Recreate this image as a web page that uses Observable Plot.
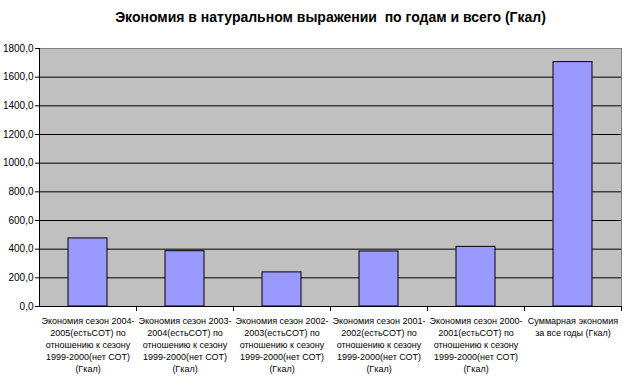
<!DOCTYPE html>
<html>
<head>
<meta charset="utf-8">
<script src="https://cdn.jsdelivr.net/npm/d3@7"></script>
<script src="https://cdn.jsdelivr.net/npm/@observablehq/plot@0.6"></script>
<style>
  html, body { margin: 0; padding: 0; background: white; }
</style>
</head>
<body>
<div id="chart"></div>
<script>
const title = "Экономия в натуральном выражении  по годам и всего (Гкал)";
const categories = [
  "Экономия сезон 2004-\n2005(естьСОТ) по\nотношению к сезону\n1999-2000(нет СОТ)\n(Гкал)",
  "Экономия сезон 2003-\n2004(естьСОТ) по\nотношению к сезону\n1999-2000(нет СОТ)\n(Гкал)",
  "Экономия сезон 2002-\n2003(естьСОТ) по\nотношению к сезону\n1999-2000(нет СОТ)\n(Гкал)",
  "Экономия сезон 2001-\n2002(естьСОТ) по\nотношению к сезону\n1999-2000(нет СОТ)\n(Гкал)",
  "Экономия сезон 2000-\n2001(естьСОТ) по\nотношению к сезону\n1999-2000(нет СОТ)\n(Гкал)",
  "Суммарная экономия\nза все годы (Гкал)"
];
const values = [475, 386, 238, 384, 416, 1705];
const yTicks = [0, 200, 400, 600, 800, 1000, 1200, 1400, 1600, 1800];

const data = categories.map((c, i) => ({cat: c, value: values[i]}));

const W = 625, H = 385, mL = 39, mR = 4, mT = 48, mB = 79;
const step = (W - mL - mR) / categories.length;

const chart = Plot.plot({
  width: W, height: H,
  marginTop: mT, marginLeft: mL, marginRight: mR, marginBottom: mB,
  style: {fontFamily: "'Liberation Sans', Arial, sans-serif", fontSize: "10px", background: "white", color: "black"},
  x: {domain: categories, paddingInner: 0.6, paddingOuter: 0.3, axis: null, label: null},
  y: {domain: [0, 1800], axis: null, label: null},
  marks: [
    Plot.frame({fill: "#c0c0c0", stroke: "#808080"}),
    Plot.gridY(yTicks.slice(1, -1), {stroke: "black", strokeOpacity: 1}),
    Plot.barY(data, {x: "cat", y: "value", fill: "#9999ff", stroke: "black", strokeWidth: 1}),
    Plot.ruleY([0], {stroke: "black"}),
    Plot.ruleX([categories[0]], {dx: -step / 2, stroke: "black"}),
    Plot.axisY(yTicks, {tickSize: 4, tickPadding: 2, fontSize: 10, label: null, tickFormat: d => d.toFixed(1).replace(".", ",")}),
    Plot.axisX(categories, {tickSize: 5, dx: step / 2, label: null, tickFormat: () => ""}),
    Plot.axisX(categories, {tickSize: 0, tickPadding: 9, fontSize: 9, lineHeight: 1.333, label: null, tickFormat: d => d}),
    Plot.text([title], {frameAnchor: "top", dy: -36, fontSize: 14, fontWeight: "bold", fill: "black"})
  ]
});
document.getElementById("chart").appendChild(chart);
</script>
</body>
</html>
